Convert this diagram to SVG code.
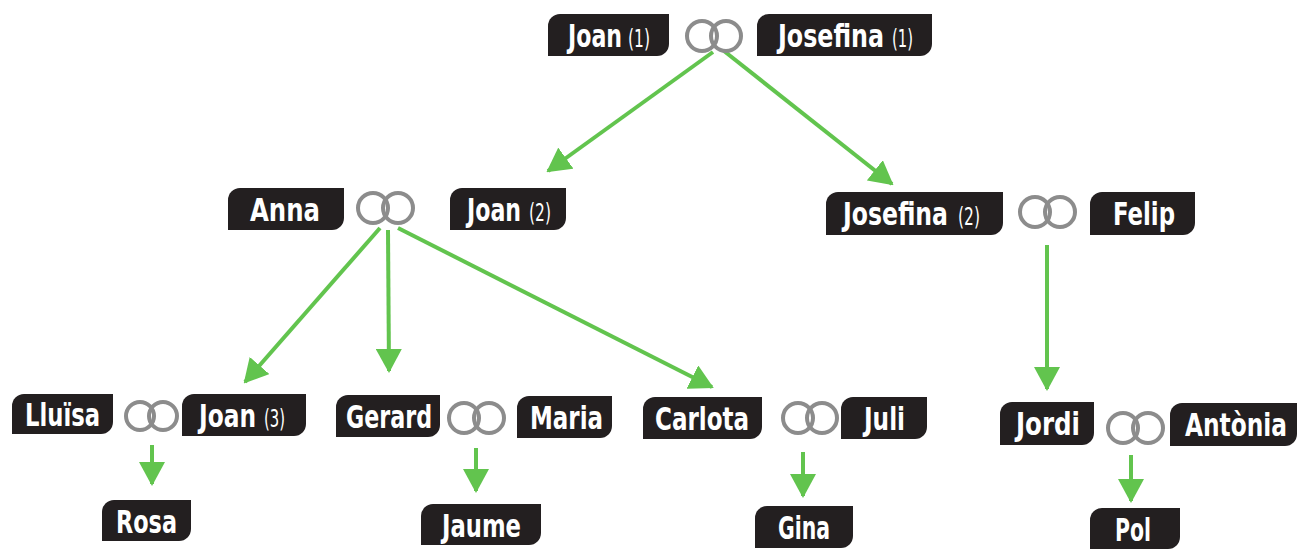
<svg xmlns="http://www.w3.org/2000/svg" width="1309" height="549" viewBox="0 0 1309 549">
<style>
.box{fill:#231f20}
.nm{font-family:"DejaVu Sans Condensed","Liberation Sans Narrow","Liberation Sans",sans-serif;font-weight:bold;font-size:32px;fill:#ffffff}
.sm{font-family:"DejaVu Sans Condensed","Liberation Sans Narrow","Liberation Sans",sans-serif;font-weight:normal;font-size:24px;fill:#ffffff}
.ring{fill:none;stroke:#8c8c8c;stroke-width:4}
.con{stroke:#62c44e;stroke-width:4;fill:none;marker-end:url(#ah)}
</style>
<defs>
<marker id="ah" markerUnits="userSpaceOnUse" viewBox="0 0 24 26" markerWidth="24" markerHeight="26" refX="22" refY="13" orient="auto">
<path d="M0,0 L24,13 L0,26 Z" fill="#62c44e"/>
</marker>
</defs>
<rect width="1309" height="549" fill="#ffffff"/>
<g id="connectors">
<line class="con" x1="713" y1="52" x2="548" y2="171"/>
<line class="con" x1="724" y1="51" x2="892" y2="184"/>
<line class="con" x1="380" y1="228" x2="245" y2="382"/>
<line class="con" x1="388" y1="230" x2="389" y2="371"/>
<line class="con" x1="398" y1="228" x2="712" y2="387"/>
<line class="con" x1="1047" y1="245" x2="1047" y2="389"/>
<line class="con" x1="152" y1="445" x2="152" y2="484"/>
<line class="con" x1="476" y1="448" x2="476" y2="491"/>
<line class="con" x1="803" y1="452" x2="803" y2="496"/>
<line class="con" x1="1131" y1="455" x2="1131" y2="501"/>
</g>
<g id="rings-top"><circle class="ring" cx="702" cy="36" r="15"/><circle class="ring" cx="726" cy="36" r="15"/></g>
<g id="rings-anna"><circle class="ring" cx="373" cy="208" r="15"/><circle class="ring" cx="398" cy="208" r="15"/></g>
<g id="rings-josefina2"><circle class="ring" cx="1035" cy="212" r="15"/><circle class="ring" cx="1060" cy="212" r="15"/></g>
<g id="rings-lluisa"><circle class="ring" cx="140" cy="416" r="14"/><circle class="ring" cx="163" cy="416" r="14"/></g>
<g id="rings-gerard"><circle class="ring" cx="464" cy="418" r="15"/><circle class="ring" cx="489" cy="418" r="15"/></g>
<g id="rings-carlota"><circle class="ring" cx="798" cy="418" r="15"/><circle class="ring" cx="822" cy="418" r="15"/></g>
<g id="rings-jordi"><circle class="ring" cx="1123" cy="428" r="15"/><circle class="ring" cx="1148" cy="428" r="15"/></g>

<g id="joan1"><path class="box" d="M560,14 H669 V44 A12,12 0 0 1 657,56 H548 V26 A12,12 0 0 1 560,14 Z"/><text class="nm" transform="translate(568,47) scale(0.75,1)" textLength="72" lengthAdjust="spacingAndGlyphs">Joan</text><text class="sm" transform="translate(628,47) scale(0.75,1)" textLength="29.3" lengthAdjust="spacingAndGlyphs">(1)</text></g>
<g id="josefina1"><path class="box" d="M769,14 H932 V44 A12,12 0 0 1 920,56 H757 V26 A12,12 0 0 1 769,14 Z"/><text class="nm" transform="translate(778,47) scale(0.75,1)" textLength="141.3" lengthAdjust="spacingAndGlyphs">Josefina</text><text class="sm" transform="translate(892,47) scale(0.75,1)" textLength="28" lengthAdjust="spacingAndGlyphs">(1)</text></g>
<g id="anna"><path class="box" d="M240,188 H344 V218 A12,12 0 0 1 332,230 H228 V200 A12,12 0 0 1 240,188 Z"/><text class="nm" transform="translate(250,221) scale(0.75,1)" textLength="93.3" lengthAdjust="spacingAndGlyphs">Anna</text></g>
<g id="joan2"><path class="box" d="M462,188 H566 V218 A12,12 0 0 1 554,230 H450 V200 A12,12 0 0 1 462,188 Z"/><text class="nm" transform="translate(467,221) scale(0.75,1)" textLength="72" lengthAdjust="spacingAndGlyphs">Joan</text><text class="sm" transform="translate(529,221) scale(0.75,1)" textLength="29.3" lengthAdjust="spacingAndGlyphs">(2)</text></g>
<g id="josefina2"><path class="box" d="M838,192 H1003 V223 A12,12 0 0 1 991,235 H826 V204 A12,12 0 0 1 838,192 Z"/><text class="nm" transform="translate(843,225) scale(0.75,1)" textLength="140" lengthAdjust="spacingAndGlyphs">Josefina</text><text class="sm" transform="translate(958,225) scale(0.75,1)" textLength="29.3" lengthAdjust="spacingAndGlyphs">(2)</text></g>
<g id="felip"><path class="box" d="M1102,192 H1195 V223 A12,12 0 0 1 1183,235 H1090 V204 A12,12 0 0 1 1102,192 Z"/><text class="nm" transform="translate(1113,225) scale(0.75,1)" textLength="82.7" lengthAdjust="spacingAndGlyphs">Felip</text></g>
<g id="lluisa"><path class="box" d="M24,394 H113 V422 A12,12 0 0 1 101,434 H12 V406 A12,12 0 0 1 24,394 Z"/><text class="nm" transform="translate(25,426) scale(0.75,1)" textLength="100" lengthAdjust="spacingAndGlyphs">Lluïsa</text></g>
<g id="joan3"><path class="box" d="M194,394 H306 V424 A12,12 0 0 1 294,436 H182 V406 A12,12 0 0 1 194,394 Z"/><text class="nm" transform="translate(199,427) scale(0.75,1)" textLength="76" lengthAdjust="spacingAndGlyphs">Joan</text><text class="sm" transform="translate(264,427) scale(0.75,1)" textLength="28" lengthAdjust="spacingAndGlyphs">(3)</text></g>
<g id="gerard"><path class="box" d="M348,395 H440 V425 A12,12 0 0 1 428,437 H336 V407 A12,12 0 0 1 348,395 Z"/><text class="nm" transform="translate(346,428) scale(0.75,1)" textLength="114.7" lengthAdjust="spacingAndGlyphs">Gerard</text></g>
<g id="maria"><path class="box" d="M529,396 H612 V426 A12,12 0 0 1 600,438 H517 V408 A12,12 0 0 1 529,396 Z"/><text class="nm" transform="translate(530,429) scale(0.75,1)" textLength="97.3" lengthAdjust="spacingAndGlyphs">Maria</text></g>
<g id="carlota"><path class="box" d="M655,397 H762 V427 A12,12 0 0 1 750,439 H643 V409 A12,12 0 0 1 655,397 Z"/><text class="nm" transform="translate(655,430) scale(0.75,1)" textLength="125.3" lengthAdjust="spacingAndGlyphs">Carlota</text></g>
<g id="juli"><path class="box" d="M853,397 H927 V427 A12,12 0 0 1 915,439 H841 V409 A12,12 0 0 1 853,397 Z"/><text class="nm" transform="translate(864,430) scale(0.75,1)" textLength="54.7" lengthAdjust="spacingAndGlyphs">Juli</text></g>
<g id="jordi"><path class="box" d="M1012,402 H1094 V433 A12,12 0 0 1 1082,445 H1000 V414 A12,12 0 0 1 1012,402 Z"/><text class="nm" transform="translate(1016,435) scale(0.75,1)" textLength="85.3" lengthAdjust="spacingAndGlyphs">Jordi</text></g>
<g id="antonia"><path class="box" d="M1182,403 H1297 V434 A12,12 0 0 1 1285,446 H1170 V415 A12,12 0 0 1 1182,403 Z"/><text class="nm" transform="translate(1185,436) scale(0.75,1)" textLength="136" lengthAdjust="spacingAndGlyphs">Antònia</text></g>
<g id="rosa"><path class="box" d="M114,500 H191 V529 A12,12 0 0 1 179,541 H102 V512 A12,12 0 0 1 114,500 Z"/><text class="nm" transform="translate(116,533) scale(0.75,1)" textLength="81.3" lengthAdjust="spacingAndGlyphs">Rosa</text></g>
<g id="jaume"><path class="box" d="M433,504 H541 V533 A12,12 0 0 1 529,545 H421 V516 A12,12 0 0 1 433,504 Z"/><text class="nm" transform="translate(442,537) scale(0.75,1)" textLength="105.3" lengthAdjust="spacingAndGlyphs">Jaume</text></g>
<g id="gina"><path class="box" d="M767,506 H853 V536 A12,12 0 0 1 841,548 H755 V518 A12,12 0 0 1 767,506 Z"/><text class="nm" transform="translate(778,539) scale(0.75,1)" textLength="69.3" lengthAdjust="spacingAndGlyphs">Gina</text></g>
<g id="pol"><path class="box" d="M1102,508 H1180 V537 A12,12 0 0 1 1168,549 H1090 V520 A12,12 0 0 1 1102,508 Z"/><text class="nm" transform="translate(1115,541) scale(0.75,1)" textLength="48" lengthAdjust="spacingAndGlyphs">Pol</text></g>
</svg>
